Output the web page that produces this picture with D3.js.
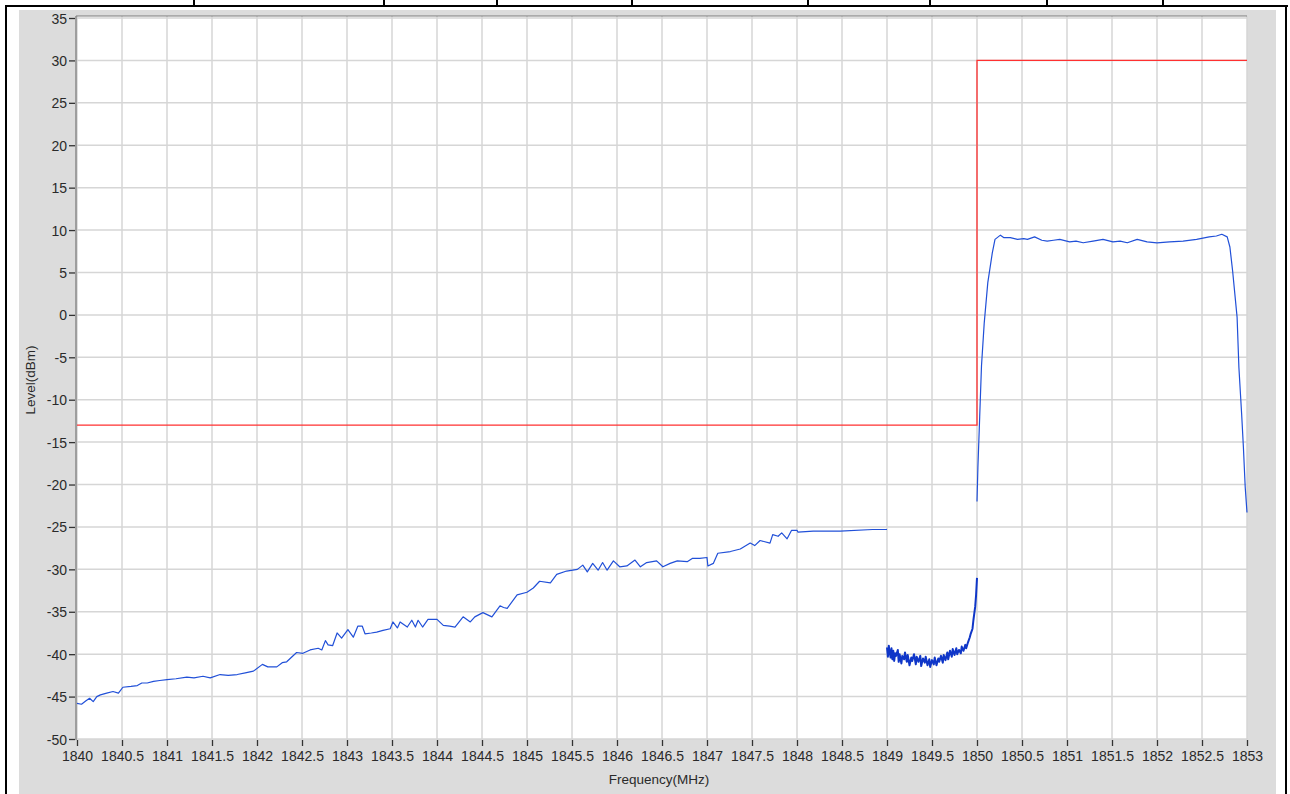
<!DOCTYPE html>
<html>
<head>
<meta charset="utf-8">
<script src="https://cdn.jsdelivr.net/npm/d3@7"></script>
<style>
  body { margin: 0; background: #fff; }
  svg { display: block; }
  .tick text { font-family: "Liberation Sans", Arial, sans-serif; font-size: 14px; fill: #2a2a2a; }
</style>
</head>
<body>
<svg id="viz"></svg>
<script>
// limit mask: level steps from -13 dBm to 30 dBm at 1850 MHz
const maskFreq = [1840, 1850, 1850, 1853];
const maskLevel = [-13, -13, 30, 30];

// trace 1: 1840 .. 1849 MHz
const trace1 = [
  [1840.00,-45.8],[1840.05,-45.9],[1840.10,-45.5],[1840.14,-45.2],[1840.18,-45.6],[1840.22,-45.0],
  [1840.26,-44.8],[1840.33,-44.6],[1840.40,-44.4],[1840.46,-44.6],[1840.51,-43.9],[1840.60,-43.8],
  [1840.67,-43.7],[1840.72,-43.4],[1840.78,-43.4],[1840.85,-43.2],[1840.92,-43.1],[1841.00,-43.0],
  [1841.10,-42.9],[1841.22,-42.7],[1841.30,-42.8],[1841.40,-42.6],[1841.48,-42.8],[1841.59,-42.4],
  [1841.68,-42.5],[1841.78,-42.4],[1841.87,-42.2],[1841.96,-42.0],[1842.06,-41.2],[1842.12,-41.5],
  [1842.22,-41.5],[1842.28,-41.0],[1842.33,-40.9],[1842.44,-39.8],[1842.51,-39.9],[1842.59,-39.5],
  [1842.68,-39.3],[1842.72,-39.5],[1842.76,-38.4],[1842.79,-38.9],[1842.84,-39.0],[1842.89,-37.5],
  [1842.94,-38.1],[1843.01,-37.1],[1843.07,-38.0],[1843.12,-36.7],[1843.17,-36.7],[1843.20,-37.6],
  [1843.27,-37.5],[1843.33,-37.4],[1843.40,-37.2],[1843.48,-37.0],[1843.51,-36.2],[1843.56,-36.9],
  [1843.59,-36.2],[1843.67,-36.8],[1843.72,-36.0],[1843.76,-36.8],[1843.79,-36.0],[1843.84,-36.8],
  [1843.90,-35.9],[1844.00,-35.9],[1844.07,-36.6],[1844.14,-36.7],[1844.20,-36.8],[1844.29,-35.6],
  [1844.37,-36.2],[1844.42,-35.6],[1844.51,-35.1],[1844.61,-35.6],[1844.70,-34.3],[1844.74,-34.5],
  [1844.78,-34.6],[1844.89,-33.0],[1845.00,-32.7],[1845.07,-32.2],[1845.14,-31.4],[1845.26,-31.6],
  [1845.33,-30.6],[1845.44,-30.2],[1845.56,-30.0],[1845.62,-29.5],[1845.67,-30.3],[1845.73,-29.3],
  [1845.79,-30.1],[1845.84,-29.2],[1845.89,-30.1],[1845.96,-29.0],[1846.03,-29.7],[1846.11,-29.6],
  [1846.20,-28.9],[1846.26,-29.7],[1846.33,-29.2],[1846.44,-29.0],[1846.51,-29.7],[1846.59,-29.3],
  [1846.67,-29.0],[1846.78,-29.1],[1846.84,-28.7],[1846.92,-28.7],[1847.00,-28.6],[1847.01,-29.6],
  [1847.07,-29.3],[1847.12,-28.1],[1847.26,-27.9],[1847.37,-27.6],[1847.48,-26.9],[1847.53,-27.2],
  [1847.59,-26.6],[1847.70,-26.9],[1847.73,-25.9],[1847.79,-26.1],[1847.83,-25.7],[1847.89,-26.4],
  [1847.94,-25.4],[1848.00,-25.4],[1848.01,-25.6],[1848.18,-25.5],[1848.48,-25.5],[1848.84,-25.3],
  [1849.00,-25.3]
];

// trace 2: 1849 .. 1850 MHz (noisy floor)
const trace2 = [
  [1849.00,-39.2],[1849.01,-40.3],[1849.02,-39.0],[1849.03,-39.8],[1849.04,-40.4],[1849.05,-39.3],
  [1849.06,-40.6],[1849.07,-39.6],[1849.08,-40.8],[1849.09,-39.9],[1849.10,-40.2],[1849.12,-39.5],
  [1849.13,-40.9],[1849.14,-40.0],[1849.16,-41.1],[1849.17,-40.2],[1849.19,-40.6],[1849.20,-39.8],
  [1849.22,-40.9],[1849.23,-40.1],[1849.25,-41.3],[1849.27,-40.4],[1849.28,-40.8],[1849.30,-40.0],
  [1849.32,-41.2],[1849.33,-40.3],[1849.35,-40.9],[1849.37,-40.2],[1849.38,-41.4],[1849.40,-40.5],
  [1849.42,-41.0],[1849.43,-40.3],[1849.45,-41.3],[1849.47,-40.6],[1849.48,-41.5],[1849.50,-40.7],
  [1849.52,-41.2],[1849.53,-40.4],[1849.55,-41.3],[1849.57,-40.5],[1849.58,-40.9],[1849.60,-40.2],
  [1849.62,-41.0],[1849.63,-40.1],[1849.65,-40.7],[1849.67,-39.8],[1849.68,-40.6],[1849.70,-39.6],
  [1849.72,-40.3],[1849.73,-39.4],[1849.75,-40.1],[1849.77,-39.3],[1849.78,-40.0],[1849.80,-39.5],
  [1849.82,-39.9],[1849.83,-39.1],[1849.85,-39.6],[1849.87,-38.9],[1849.88,-39.3],[1849.90,-38.6],
  [1849.92,-38.0],[1849.93,-37.6],[1849.95,-37.0],[1849.96,-36.0],[1849.97,-35.2],[1849.98,-34.4],
  [1849.99,-33.0],[1850.00,-31.0]
];

// trace 3: 1850 .. 1853 MHz (carrier)
const trace3 = [
  [1850.00,-22.0],[1850.01,-18.0],[1850.03,-12.0],[1850.05,-6.0],[1850.08,-1.0],[1850.12,3.8],
  [1850.17,7.3],[1850.20,8.9],[1850.26,9.4],[1850.30,9.1],[1850.37,9.1],[1850.45,8.9],[1850.52,9.0],
  [1850.56,8.9],[1850.64,9.2],[1850.72,8.8],[1850.78,8.7],[1850.85,8.8],[1850.92,8.9],[1851.03,8.6],
  [1851.10,8.7],[1851.18,8.5],[1851.29,8.7],[1851.40,8.9],[1851.51,8.6],[1851.59,8.7],[1851.67,8.5],
  [1851.78,8.9],[1851.89,8.6],[1852.00,8.5],[1852.14,8.6],[1852.29,8.7],[1852.44,8.9],[1852.58,9.2],
  [1852.66,9.3],[1852.72,9.5],[1852.78,9.2],[1852.81,8.0],[1852.84,5.2],[1852.89,-0.3],[1852.91,-6.2],
  [1852.94,-11.6],[1852.96,-15.6],[1852.98,-20.3],[1853.00,-23.3]
];

const xTicks = d3.range(1840, 1853.01, 0.5);
const yTicks = d3.range(-50, 36, 5);

const W = 1290, H = 794;
const svg = d3.select("#viz").attr("width", W).attr("height", H);

// outer frame (table cell borders)
svg.append("rect").attr("x", 19).attr("y", 10).attr("width", 1257).attr("height", 784).attr("fill", "#dcdcdc");
svg.append("line").attr("x1", 5).attr("x2", 1288).attr("y1", 6).attr("y2", 6).attr("stroke", "#000").attr("stroke-width", 2);
svg.append("line").attr("x1", 6).attr("x2", 6).attr("y1", 5).attr("y2", H).attr("stroke", "#000").attr("stroke-width", 2);
svg.append("line").attr("x1", 1286).attr("x2", 1286).attr("y1", 5).attr("y2", H).attr("stroke", "#000").attr("stroke-width", 2);
[194, 384, 497, 632, 808, 930, 1047, 1163].forEach(cx => {
  svg.append("line").attr("x1", cx).attr("x2", cx).attr("y1", 0).attr("y2", 6).attr("stroke", "#000").attr("stroke-width", 2);
});

const plotL = 77, plotR = 1247, plotT = 18, plotB = 739;
const x = d3.scaleLinear().domain([1840, 1853]).range([plotL, plotR]);
const y = d3.scaleLinear().domain([-50, 35]).range([plotB, plotT]);

svg.append("rect").attr("x", plotL).attr("y", 16).attr("width", plotR - plotL).attr("height", plotB - 16).attr("fill", "#fff");

// grid
svg.append("g").selectAll("line").data(xTicks).enter().append("line")
  .attr("x1", d => x(d)).attr("x2", d => x(d)).attr("y1", 16).attr("y2", plotB)
  .attr("stroke", "#d6d6d6").attr("stroke-width", 1.5);
svg.append("g").selectAll("line").data(yTicks).enter().append("line")
  .attr("x1", plotL).attr("x2", plotR).attr("y1", d => y(d)).attr("y2", d => y(d))
  .attr("stroke", "#d6d6d6").attr("stroke-width", 1.5);

// plot border top + left
svg.append("line").attr("x1", plotL - 1).attr("x2", plotR).attr("y1", 16).attr("y2", 16).attr("stroke", "#7a7a7a").attr("stroke-width", 1.2);
svg.append("line").attr("x1", plotL - 1).attr("x2", plotL - 1).attr("y1", 16).attr("y2", plotB + 1).attr("stroke", "#8a8a8a").attr("stroke-width", 1.5);

// axes
const yAxis = svg.append("g").attr("transform", `translate(${plotL - 2},0)`)
  .call(d3.axisLeft(y).tickValues(yTicks).tickSize(6).tickPadding(2).tickFormat(d => d));
const xAxis = svg.append("g").attr("transform", `translate(0,${plotB + 1})`)
  .call(d3.axisBottom(x).tickValues(xTicks).tickSize(6).tickPadding(5)
    .tickFormat(d => Number.isInteger(d) ? d : d.toFixed(1)));
[yAxis, xAxis].forEach(g => {
  g.select(".domain").remove();
  g.selectAll(".tick line").attr("stroke", "#333").attr("stroke-width", 1.3);
});
yAxis.selectAll(".tick text").attr("dy", "0.36em");

svg.append("text").attr("x", 659).attr("y", 784).attr("text-anchor", "middle")
  .style("font-family", "Liberation Sans, Arial, sans-serif").style("font-size", "13.5px").attr("fill", "#2a2a2a")
  .text("Frequency(MHz)");
svg.append("text").attr("transform", "translate(35,380) rotate(-90)").attr("text-anchor", "middle")
  .style("font-family", "Liberation Sans, Arial, sans-serif").style("font-size", "13.5px").attr("fill", "#2a2a2a")
  .text("Level(dBm)");

// lines
const plot = svg.append("g");
const maskLine = d3.line().x(d => x(d[0])).y(d => y(d[1]));
plot.append("path")
  .attr("d", maskLine(maskFreq.map((f, i) => [f, maskLevel[i]])))
  .attr("fill", "none").attr("stroke", "#ff3030").attr("stroke-width", 1.3);

const traceLine = d3.line().x(d => x(d[0])).y(d => y(d[1]));
plot.selectAll(".trace").data([trace1, trace2, trace3]).enter().append("path")
  .attr("class", "trace")
  .attr("d", traceLine)
  .attr("fill", "none")
  .attr("stroke", (d, i) => i === 1 ? "#0f36c8" : "#2150d8")
  .attr("stroke-width", (d, i) => i === 1 ? 2 : 1.2)
  .attr("stroke-linejoin", "round");
</script>
</body>
</html>
